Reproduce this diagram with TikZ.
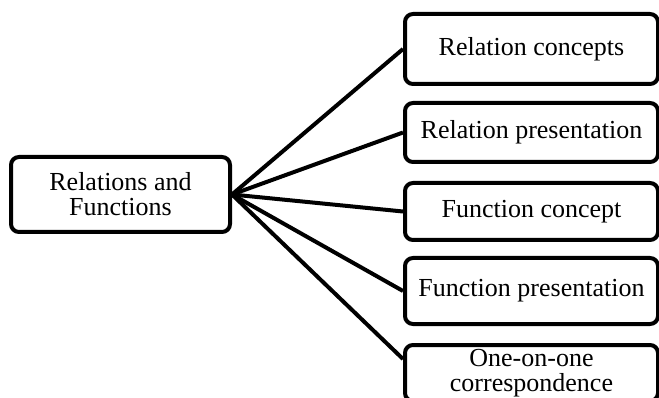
\documentclass[tikz,border=0pt]{standalone}
\usepackage{fontspec}
\setmainfont{Liberation Serif}
\begin{document}
\begin{tikzpicture}[x=1pt,y=-1pt,
  box/.style={draw=black,line width=4pt,rounded corners=8pt,fill=white,align=center,
    inner sep=0pt,font=\fontsize{26}{25}\selectfont},
  link/.style={draw=black,line width=4pt}]
\useasboundingbox (0,0) rectangle (659,398);
\clip (0,0) rectangle (659,398);
\node[box,minimum width=219pt,minimum height=75pt] (L) at (120.5,194.5) {Relations and\\Functions};
\node[box,minimum width=253pt,minimum height=70pt] (b1) at (531.5,49) {Relation concepts};
\node[box,minimum width=253pt,minimum height=59pt] (b2) at (531.5,132.5) {Relation presentation};
\node[box,minimum width=253pt,minimum height=57pt] (b3) at (531.5,211.5) {Function concept};
\node[box,minimum width=253pt,minimum height=66pt] (b4) at (531.5,291) {Function presentation};
\node[box,minimum width=253pt,minimum height=56pt,anchor=north] (b5) at (531.5,343) {One-on-one\\correspondence};
\draw[link] (L.east) -- (b1.west);
\draw[link] (L.east) -- (b2.west);
\draw[link] (L.east) -- (b3.west);
\draw[link] (L.east) -- (b4.west);
\draw[link] (L.east) -- ([yshift=14pt]b5.west);
\end{tikzpicture}
\end{document}
